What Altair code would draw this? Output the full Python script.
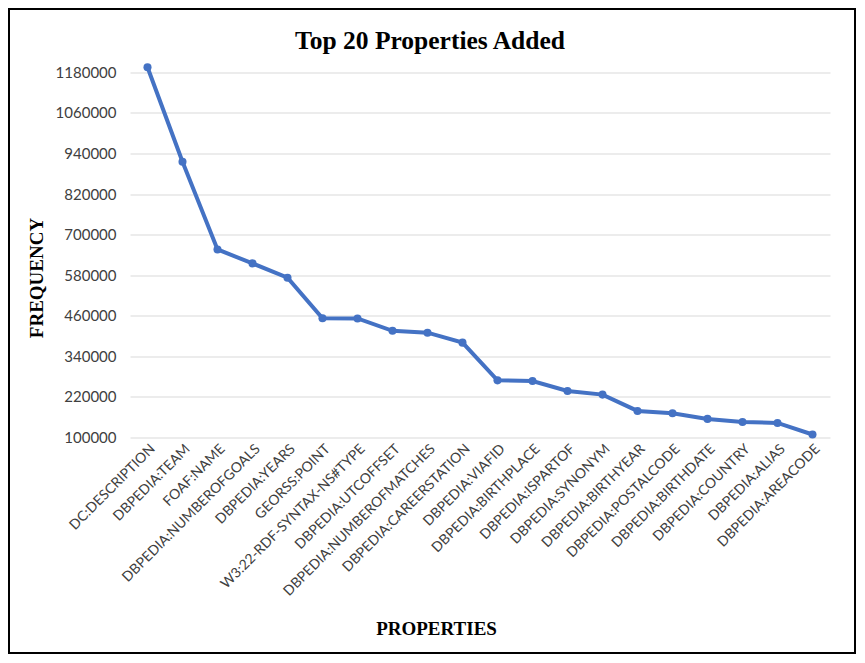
import altair as alt
import pandas as pd

properties = ["DC:DESCRIPTION", "DBPEDIA:TEAM", "FOAF:NAME", "DBPEDIA:NUMBEROFGOALS",
              "DBPEDIA:YEARS", "GEORSS:POINT", "W3:22-RDF-SYNTAX-NS#TYPE", "DBPEDIA:UTCOFFSET",
              "DBPEDIA:NUMBEROFMATCHES", "DBPEDIA:CAREERSTATION", "DBPEDIA:VIAFID",
              "DBPEDIA:BIRTHPLACE", "DBPEDIA:ISPARTOF", "DBPEDIA:SYNONYM", "DBPEDIA:BIRTHYEAR",
              "DBPEDIA:POSTALCODE", "DBPEDIA:BIRTHDATE", "DBPEDIA:COUNTRY", "DBPEDIA:ALIAS",
              "DBPEDIA:AREACODE"]
frequency = [1195000, 915500, 656000, 614800, 572500, 452500, 452000, 415400, 410000, 380500,
             269000, 267000, 237400, 226800, 178600, 171500, 155000, 146100, 143000, 108900]
y_ticks = [100000, 220000, 340000, 460000, 580000, 700000, 820000, 940000, 1060000, 1180000]

df = pd.DataFrame({"property": properties, "frequency": frequency})

W, H = 700, 372
PAD_L, PAD_T = 122, 57.5
TOTAL_W, TOTAL_H = 848, 646
PAD_R = TOTAL_W - PAD_L - W
PAD_B = TOTAL_H - PAD_T - H

x_enc = alt.X("property:N", sort=properties, scale=alt.Scale(paddingInner=0, paddingOuter=0),
              axis=alt.Axis(title="PROPERTIES", labelAngle=-45, labelFont="Lato", labelFontSize=14,
                            labelColor="#404040", labelPadding=4, ticks=False, domain=False,
                            grid=False, labelOverlap=False, labelLimit=0,
                            titleFont="Liberation Serif", titleFontWeight="bold", titleFontSize=19,
                            titleColor="black", titleX=306, titleY=191, titleAnchor=None,
                            titleAlign="center", titleBaseline="middle"))
y_enc = alt.Y("frequency:Q", scale=alt.Scale(domain=[100000, 1200000], nice=False, zero=False),
              axis=alt.Axis(title="FREQUENCY", values=y_ticks, format="d", labelFont="Lato",
                            labelFontSize=15, labelColor="#404040", labelPadding=14, ticks=False,
                            domain=False, gridColor="#d9d9d9", gridWidth=1,
                            titleFont="Liberation Serif", titleFontWeight="bold", titleFontSize=19,
                            titleColor="black", titleX=-94, titleY=212, titleAngle=270,
                            titleAlign="center", titleBaseline="middle"))

base = alt.Chart(df)
line = base.mark_line(color="#4472C4", strokeWidth=4).encode(x=x_enc, y=y_enc)
pts = base.mark_point(filled=True, color="#4472C4", size=65, opacity=1).encode(x=x_enc, y=y_enc)

title = alt.Chart(pd.DataFrame({"t": ["Top 20 Properties Added"]})).mark_text(
    font="Liberation Serif", fontWeight="bold", fontSize=25.5, color="black",
    align="center", baseline="alphabetic"
).encode(text="t:N", x=alt.value(300), y=alt.value(49.3 - 65.5))

border = alt.Chart(pd.DataFrame({"a": [0]})).mark_rect(
    filled=False, stroke="black", strokeWidth=2
).encode(x=alt.value(-PAD_L + 1), x2=alt.value(W + PAD_R - 1),
         y=alt.value(-PAD_T + 1), y2=alt.value(H + PAD_B - 1))

chart = alt.layer(line, pts, title, border).properties(
    width=W, height=H,
    autosize=alt.AutoSizeParams(type="none"),
    padding={"left": PAD_L, "top": PAD_T, "right": PAD_R, "bottom": PAD_B},
    background="white"
).configure_view(stroke=None)

chart.save("out.html", embed_options={"renderer": "svg", "actions": False})
